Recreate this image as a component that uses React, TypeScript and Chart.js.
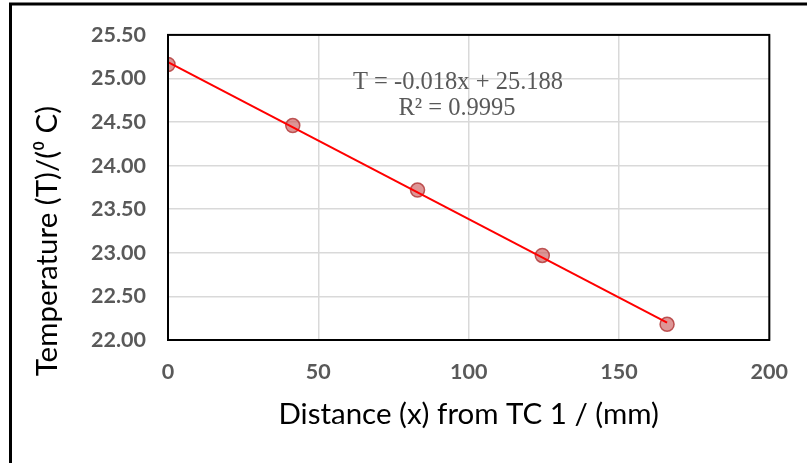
import React, { useEffect, useRef } from "react";
import { Chart, registerables } from "chart.js";

Chart.register(...registerables);

const distances = [0, 41.5, 83, 124.5, 166];
const temperatures = [25.16, 24.46, 23.72, 22.97, 22.18];
const trendX = [0, 166];
const trendY = [25.188, 22.2];
const xTitle = "Distance (x) from TC 1 / (mm)";
const yTitle = "Temperature (T)/(⁰ C)";
const equationLines = ["T = -0.018x + 25.188", "R² = 0.9995"];

const framePlugin = {
  id: "framePlugin",
  afterDraw(chart: any) {
    const ctx = chart.ctx;
    const a = chart.chartArea;
    ctx.save();
    ctx.strokeStyle = "#000000";
    ctx.lineWidth = 2;
    ctx.strokeRect(a.left, a.top, a.right - a.left, a.bottom - a.top);
    ctx.lineWidth = 3;
    ctx.beginPath();
    ctx.moveTo(10.5, 470);
    ctx.lineTo(10.5, 4);
    ctx.lineTo(820, 4);
    ctx.stroke();
    ctx.fillStyle = "#000000";
    ctx.font = "29.5px Lato";
    ctx.textAlign = "center";
    ctx.textBaseline = "alphabetic";
    ctx.fillText(xTitle, (a.left + a.right) / 2, 424);
    ctx.save();
    ctx.translate(57, 241);
    ctx.rotate(-Math.PI / 2);
    ctx.fillText(yTitle, 0, 0);
    ctx.restore();
    ctx.fillStyle = "#595959";
    ctx.font = "24.5px 'Liberation Serif'";
    ctx.fillText(equationLines[0], 458, 89);
    ctx.fillText(equationLines[1], 457, 115);
    ctx.restore();
  },
};

export default function App() {
  const ref = useRef<HTMLCanvasElement>(null);
  useEffect(() => {
    document.body.style.margin = "0";
    const chart = new Chart(ref.current!, {
      type: "scatter",
      data: {
        datasets: [
          {
            type: "line",
            data: trendX.map((x, i) => ({ x, y: trendY[i] })),
            borderColor: "#FF0000",
            borderWidth: 2,
            pointRadius: 0,
            fill: false,
            order: 1,
          },
          {
            type: "scatter",
            data: distances.map((x, i) => ({ x, y: temperatures[i] })),
            backgroundColor: "rgba(200,80,80,0.6)",
            borderColor: "rgba(180,60,60,0.85)",
            borderWidth: 1.5,
            pointRadius: 7,
            order: 2,
          },
        ],
      },
      options: {
        responsive: false,
        animation: false,
        layout: { padding: { top: 33, right: 37, left: 0, bottom: 0 } },
        plugins: { legend: { display: false }, tooltip: { enabled: false } },
        scales: {
          x: {
            type: "linear",
            min: 0,
            max: 200,
            ticks: {
              stepSize: 50,
              color: "#595959",
              font: { family: "Lato", weight: "bold", size: 21.5 },
              padding: 19,
            },
            grid: { color: "#D9D9D9", lineWidth: 1.5, drawTicks: false },
            border: { display: false },
            afterFit: (s: any) => {
              s.height = 123;
            },
          },
          y: {
            min: 22,
            max: 25.5,
            ticks: {
              stepSize: 0.5,
              color: "#595959",
              font: { family: "Lato", weight: "bold", size: 21.5 },
              padding: 22,
              callback: (v: any) => Number(v).toFixed(2),
            },
            grid: { color: "#D9D9D9", lineWidth: 1.5, drawTicks: false },
            border: { display: false },
            afterFit: (s: any) => {
              s.width = 168;
            },
          },
        },
      },
      plugins: [framePlugin],
    });
    return () => chart.destroy();
  }, []);
  return (
    <div style={{ width: 807, height: 463 }}>
      <canvas ref={ref} width={807} height={463} />
    </div>
  );
}
